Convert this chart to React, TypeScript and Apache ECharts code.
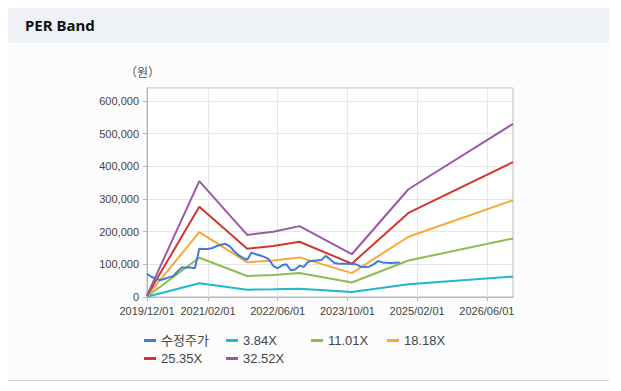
import React, { useEffect, useRef } from "react";
import * as echarts from "echarts";

// Monthly categories 2019/12 .. 2026/12
const START_YEAR = 2019;
const START_MONTH = 12;
const MONTH_COUNT = 85;
const CATEGORIES: string[] = [];
for (let i = 0; i < MONTH_COUNT; i++) {
  const m0 = START_MONTH - 1 + i;
  const y = START_YEAR + Math.floor(m0 / 12);
  const m = (m0 % 12) + 1;
  CATEGORIES.push(`${y}/${m < 10 ? "0" + m : m}/01`);
}

const TICK_LABELS = ["2019/12/01", "2021/02/01", "2022/06/01", "2023/10/01", "2025/02/01", "2026/06/01"];

// 수정주가 (monthly, from 2019/12)
const PRICE = [
  71000, 62000, 56000, 52000, 55000, 60000, 64000, 78000, 90000, 90000, 90000, 88000,
  148000, 147000, 147000, 150000, 156000, 160000, 163000, 155000, 140000, 128000, 120000, 114000,
  136000, 131000, 127000, 122000, 115000, 95000, 88000, 97000, 100000, 82000, 84000, 96000,
  92000, 108000, 111000, 112000, 113000, 126000, 116000, 104000, 102000, 102000, 102000, 101000,
  100000, 93000, 92000, 93000, 100000, 110000, 106000, 105000, 104000, 105000, 106000,
];

// PER band key points
const BAND_DATES = ["2019/12/01", "2020/12/01", "2021/11/01", "2022/05/01", "2022/11/01", "2023/11/01", "2024/12/01", "2026/12/01"];
const BAND_384 = [540, 41900, 22400, 23600, 25600, 15500, 39000, 62600];
const BAND_1101 = [1540, 120200, 64300, 67700, 73500, 44300, 111700, 179400];
const BAND_1818 = [2545, 198500, 106200, 111800, 121300, 73200, 184500, 296300];
const BAND_2535 = [3550, 276700, 148100, 155900, 169200, 102100, 257300, 413200];
const BAND_3252 = [4550, 355000, 190000, 200000, 217000, 131000, 330000, 530000];

const NAMES = ["수정주가", "3.84X", "11.01X", "18.18X", "25.35X", "32.52X"];
const COLORS = ["#3d7bd6", "#22b7cb", "#8fbb4f", "#f6a935", "#d2352c", "#9a59a9"];

const FONT = "'Liberation Sans', 'Noto Sans CJK KR', sans-serif";

export default function App() {
  const ref = useRef<HTMLDivElement>(null);
  useEffect(() => {
    if (!ref.current) return;
    const chart = echarts.init(ref.current, null, { renderer: "svg" });
    const bandData = (vals: number[]) => BAND_DATES.map((d, i) => [CATEGORIES.indexOf(d), vals[i]]);
    const bands = [BAND_384, BAND_1101, BAND_1818, BAND_2535, BAND_3252];
    const isTick = (idx: number) => TICK_LABELS.includes(CATEGORIES[idx]);
    const legendPos = [
      [136, 290],
      [218, 290],
      [303, 290],
      [379, 290],
      [136, 308],
      [218, 308],
    ];
    chart.setOption({
      animation: false,
      textStyle: { fontFamily: FONT },
      grid: {
        left: 139,
        top: 44,
        width: 366,
        height: 209,
        show: true,
        borderColor: "#b8b8b8",
        borderWidth: 1,
        backgroundColor: "#ffffff",
      },
      legend: NAMES.map((n, i) => ({
        data: [n],
        left: legendPos[i][0],
        top: legendPos[i][1],
        icon: "rect",
        itemWidth: 12,
        itemHeight: 3,
        itemGap: 0,
        padding: 0,
        textStyle: { fontSize: 13, color: "#444", fontFamily: FONT, padding: [0, 0, 0, 0] },
      })),
      graphic: [
        {
          type: "text",
          left: 117,
          top: 23,
          style: { text: "（원）", fontSize: 12, fill: "#555", fontFamily: FONT },
        },
      ],
      xAxis: {
        type: "category",
        data: CATEGORIES,
        boundaryGap: false,
        axisLine: { show: true, lineStyle: { color: "#b8b8b8" } },
        axisTick: { show: true, interval: isTick, length: 4, lineStyle: { color: "#b8b8b8" } },
        axisLabel: { interval: isTick, fontSize: 11, color: "#444", margin: 8, fontFamily: FONT },
        splitLine: { show: true, interval: isTick, lineStyle: { color: "#e6e6e6" } },
      },
      yAxis: {
        type: "value",
        min: 0,
        max: 640000,
        interval: 100000,
        axisLine: { show: true, lineStyle: { color: "#b8b8b8" } },
        axisTick: { show: true, length: 4, lineStyle: { color: "#b8b8b8" } },
        axisLabel: {
          fontSize: 11,
          color: "#444",
          margin: 8,
          showMaxLabel: false,
          fontFamily: FONT,
          formatter: (v: number) => v.toLocaleString("en-US"),
        },
        splitLine: { show: true, lineStyle: { color: "#e6e6e6" } },
      },
      series: [
        ...bands.map((b, i) => ({
          name: NAMES[i + 1],
          type: "line",
          data: bandData(b),
          symbol: "none",
          lineStyle: { width: 2, color: COLORS[i + 1] },
          itemStyle: { color: COLORS[i + 1] },
        })),
        {
          name: NAMES[0],
          type: "line",
          data: PRICE,
          symbol: "none",
          lineStyle: { width: 2, color: COLORS[0] },
          itemStyle: { color: COLORS[0] },
        },
      ],
    });
    return () => chart.dispose();
  }, []);

  return (
    <div
      style={{
        position: "relative",
        width: 601,
        height: 374,
        marginTop: -1,
        borderTop: "1px solid #d4d4d4",
        borderBottom: "1px solid #d4d4d4",
        background: "#fcfcfc",
        boxSizing: "border-box",
      }}
    >
      <div
        style={{
          height: 35,
          background: "#eef2f7",
          boxSizing: "border-box",
          paddingLeft: 17,
          paddingTop: 8,
          fontFamily: "'Noto Sans', sans-serif",
          fontWeight: "bold",
          fontSize: 15,
          lineHeight: "18px",
          color: "#111",
        }}
      >
        PER Band
      </div>
      <div ref={ref} style={{ position: "absolute", left: 0, top: 36, width: 601, height: 337 }} />
    </div>
  );
}
